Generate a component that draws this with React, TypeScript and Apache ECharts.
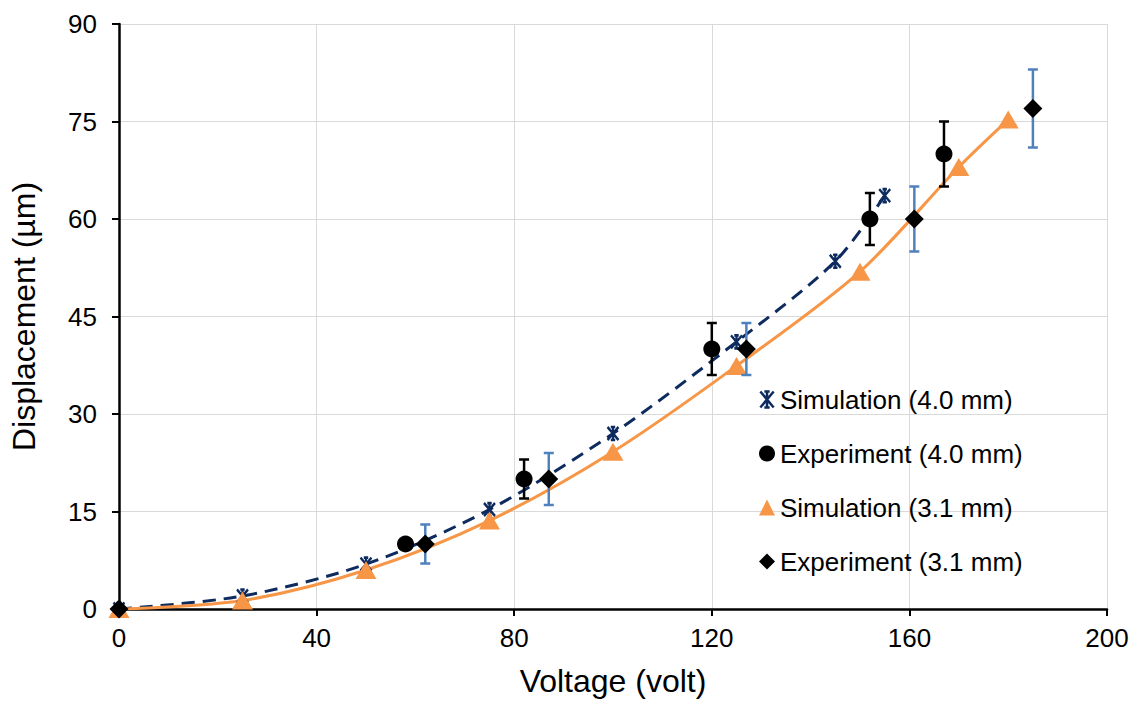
import React, { useEffect, useRef } from "react";
import * as echarts from "echarts";

const FONT = "'Liberation Sans', Arial, sans-serif";

const sim40X = [0, 25, 50, 75, 100, 125, 145, 155];
const sim40Y = [0, 2.0, 6.9, 15.3, 27, 41.1, 53.5, 63.6];

const exp40X = [58, 82, 120, 152, 167];
const exp40Y = [10, 20, 40, 60, 70];
const exp40Err = [0, 3, 4, 4, 5];

const sim31X = [0, 25, 50, 75, 100, 125, 150, 170, 180];
const sim31Y = [0, 1.3, 6, 13.6, 24.2, 37.4, 51.9, 68, 75.3];

const exp31X = [0, 62, 87, 127, 161, 185];
const exp31Y = [0, 10, 20, 40, 60, 77];
const exp31Err = [0, 3, 4, 4, 5, 6];

const xTicks = [0, 40, 80, 120, 160, 200];
const yTicks = [0, 15, 30, 45, 60, 75, 90];

const NAVY = "#0D2B5E";
const ORANGE = "#F79646";
const BLUE = "#4F81BD";
const STAR = "path://M0,0 L10,12 M10,0 L0,12 M5,0 L5,12 M3,0 L7,0 M3,12 L7,12";

const pairs = (xs: number[], ys: number[]) => xs.map((x, i) => [x, ys[i]]);
const errData = (xs: number[], ys: number[], es: number[]) =>
  xs
    .map((x, i) => [x, ys[i] - es[i], ys[i] + es[i], es[i]])
    .filter((d) => d[3] > 0)
    .map((d) => [d[0], d[1], d[2]]);

const errorSeries = (name: string, data: number[][], color: string) => ({
  type: "custom",
  name,
  data,
  encode: { x: 0, y: [1, 2] },
  z: 3,
  silent: true,
  renderItem: (params: any, api: any) => {
    const x = api.value(0);
    const lo = api.coord([x, api.value(1)]);
    const hi = api.coord([x, api.value(2)]);
    const w = 5;
    const style = { stroke: color, lineWidth: 2.5, fill: null };
    return {
      type: "group",
      children: [
        { type: "line", shape: { x1: hi[0], y1: hi[1], x2: lo[0], y2: lo[1] }, style },
        { type: "line", shape: { x1: hi[0] - w, y1: hi[1], x2: hi[0] + w, y2: hi[1] }, style },
        { type: "line", shape: { x1: lo[0] - w, y1: lo[1], x2: lo[0] + w, y2: lo[1] }, style },
      ],
    };
  },
});

export default function App() {
  const ref = useRef<HTMLDivElement>(null);
  useEffect(() => {
    if (!ref.current) return;
    const chart = echarts.init(ref.current, null, { renderer: "svg" });
    const axisCommon = {
      type: "value",
      axisLine: { show: true, lineStyle: { color: "#000", width: 2.5 } },
      axisTick: { show: true, inside: false, length: 7, lineStyle: { color: "#000", width: 2 } },
      splitLine: { show: true, lineStyle: { color: "#D9D9D9", width: 1 } },
      axisLabel: { color: "#000", fontSize: 26, fontFamily: FONT },
      nameTextStyle: { color: "#000", fontSize: 32, fontFamily: FONT },
    };
    chart.setOption({
      animation: false,
      backgroundColor: "#fff",
      textStyle: { fontFamily: FONT },
      grid: { left: 115, right: 27, top: 24, bottom: 91, containLabel: false },
      xAxis: {
        ...axisCommon,
        min: xTicks[0],
        max: xTicks[xTicks.length - 1],
        interval: xTicks[1] - xTicks[0],
        name: "Voltage (volt)",
        nameLocation: "middle",
        nameGap: 56,
        axisLabel: { ...axisCommon.axisLabel, margin: 16 },
      },
      yAxis: {
        ...axisCommon,
        min: yTicks[0],
        max: yTicks[yTicks.length - 1],
        interval: yTicks[1] - yTicks[0],
        name: "Displacement (µm)",
        nameLocation: "middle",
        nameGap: 79,
        axisLabel: { ...axisCommon.axisLabel, margin: 22 },
      },
      legend: {
        orient: "vertical",
        left: 754,
        top: 381,
        itemWidth: 16,
        itemHeight: 16,
        itemGap: 27,
        textStyle: { color: "#000", fontSize: 26, fontFamily: FONT, lineHeight: 27 },
        data: [
          {
            name: "Simulation (4.0 mm)",
            icon: STAR,
            itemStyle: { color: "rgba(0,0,0,0)", borderColor: NAVY, borderWidth: 2.5 },
          },
          { name: "Experiment (4.0 mm)", icon: "circle", itemStyle: { color: "#000", opacity: 1 } },
          { name: "Simulation (3.1 mm)", icon: "triangle", itemStyle: { color: ORANGE, opacity: 1 } },
          { name: "Experiment (3.1 mm)", icon: "diamond", itemStyle: { color: "#000", opacity: 1 } },
        ],
      },
      series: [
        {
          type: "line",
          name: "Simulation (4.0 mm)",
          data: pairs(sim40X, sim40Y),
          smooth: 0.3,
          z: 2,
          lineStyle: { color: NAVY, width: 3, type: [13, 8] },
          symbol: STAR,
          symbolSize: [11, 13],
          itemStyle: { color: "rgba(0,0,0,0)", borderColor: NAVY, borderWidth: 2.5 },
        },
        {
          type: "line",
          name: "Simulation (3.1 mm)",
          data: pairs(sim31X, sim31Y),
          smooth: 0.3,
          z: 2,
          lineStyle: { color: ORANGE, width: 3 },
          symbol: "triangle",
          symbolSize: [21, 18],
          itemStyle: { color: ORANGE, opacity: 1 },
        },
        errorSeries("err40", errData(exp40X, exp40Y, exp40Err), "#000"),
        errorSeries("err31", errData(exp31X, exp31Y, exp31Err), BLUE),
        {
          type: "scatter",
          name: "Experiment (4.0 mm)",
          data: pairs(exp40X, exp40Y),
          symbol: "circle",
          symbolSize: 17,
          z: 4,
          itemStyle: { color: "#000", opacity: 1 },
        },
        {
          type: "scatter",
          name: "Experiment (3.1 mm)",
          data: pairs(exp31X, exp31Y),
          symbol: "diamond",
          symbolSize: 19,
          z: 4,
          itemStyle: { color: "#000", opacity: 1 },
        },
      ],
    });
    return () => chart.dispose();
  }, []);
  return (
    <div
      ref={ref}
      style={{ position: "absolute", left: 0, top: 0, width: 1134, height: 702, background: "#fff" }}
    />
  );
}
